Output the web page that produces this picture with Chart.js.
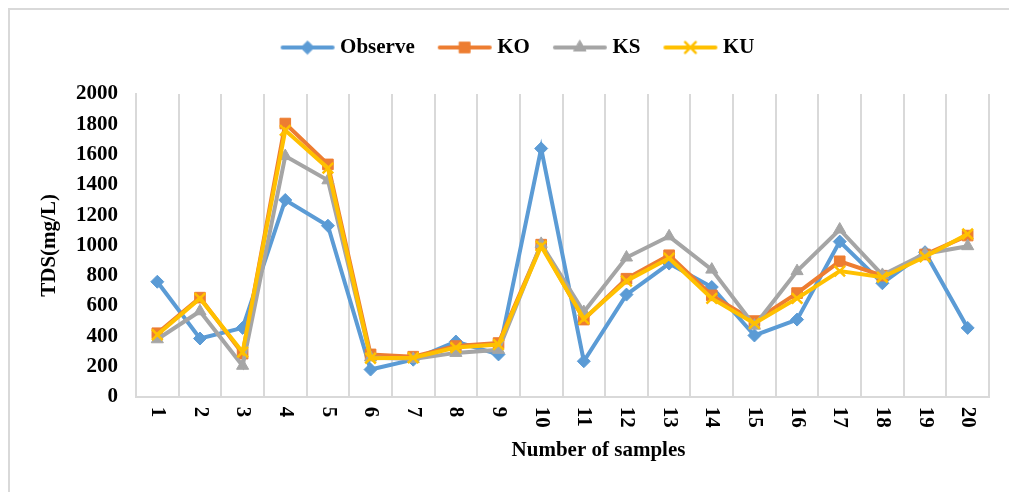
<!DOCTYPE html>
<html>
<head>
<meta charset="utf-8">
<script src="https://cdn.jsdelivr.net/npm/chart.js@4"></script>
<style>
  body { margin: 0; background: #fff; }
  #frame { position: absolute; left: 8px; top: 8px; width: 1100px; height: 600px; border: 2px solid #d9d9d9; }
  #wrap { position: absolute; left: 0; top: 0; width: 1009px; height: 492px; }
</style>
</head>
<body>
<div id="frame"></div>
<div id="wrap"><canvas id="chart"></canvas></div>
<script>
const samples = ['1', '2', '3', '4', '5', '6', '7', '8', '9', '10', '11', '12', '13', '14', '15', '16', '17', '18', '19', '20']
const observe = [760, 385, 455, 1300, 1130, 180, 245, 365, 280, 1640, 235, 675, 880, 725, 405, 510, 1025, 750, 955, 455]
const ko = [420, 655, 285, 1805, 1535, 280, 265, 335, 355, 1005, 510, 780, 935, 670, 500, 685, 895, 800, 940, 1065]
const ks = [380, 565, 205, 1590, 1430, 260, 250, 290, 310, 1010, 560, 920, 1060, 840, 470, 830, 1105, 805, 945, 995]
const ku = [410, 650, 295, 1760, 1510, 255, 258, 325, 345, 995, 515, 765, 915, 650, 485, 650, 830, 790, 925, 1075]

const font = "'Liberation Serif', 'Times New Roman', serif"
const fontSize = 21
const xTitle = 'Number of samples'

// little line + marker picture for each legend entry
function legendIcon(color, style, radius) {
    const c = document.createElement('canvas')
    c.width = 56
    c.height = 18
    const ctx = c.getContext('2d')
    ctx.strokeStyle = color
    ctx.fillStyle = color
    ctx.lineWidth = 4
    ctx.lineCap = 'round'
    ctx.beginPath()
    ctx.moveTo(3, 9)
    ctx.lineTo(53, 9)
    ctx.stroke()
    ctx.lineWidth = style === 'crossRot' ? 2.5 : 1
    Chart.helpers.drawPoint(ctx, { pointStyle: style, radius: radius, rotation: 0, borderWidth: ctx.lineWidth }, 28, 9)
    return c
}

function series(label, data, color, style, radius, order) {
    return {
        label: label,
        data: data,
        borderColor: color,
        backgroundColor: color,
        borderWidth: 4,
        pointStyle: style,
        pointRadius: radius,
        pointBorderWidth: style === 'crossRot' ? 2.5 : 1,
        pointBackgroundColor: color,
        pointBorderColor: color,
        order: order,
        tension: 0,
        icon: legendIcon(color, style, radius)
    }
}

const datasets = [
    series('Observe', observe, '#5B9BD5', 'rectRot', 6.5, 3),
    series('KO', ko, '#ED7D31', 'rect', 7.5, 2),
    series('KS', ks, '#A5A5A5', 'triangle', 7, 1),
    series('KU', ku, '#FFC000', 'crossRot', 7.5, 0)
]

// x tick labels turned clockwise, and the x title sitting a bit right of centre, like the original
const xAxisText = {
    id: 'xAxisText',
    afterDraw(chart) {
        const scale = chart.scales.x
        const ctx = chart.ctx
        ctx.save()
        ctx.fillStyle = '#000'
        ctx.font = 'bold ' + fontSize + 'px ' + font
        ctx.textAlign = 'left'
        ctx.textBaseline = 'middle'
        scale.ticks.forEach((t, i) => {
            const x = scale.getPixelForTick(i)
            ctx.save()
            ctx.translate(x, scale.top + 10)
            ctx.rotate(Math.PI / 2)
            ctx.fillText(samples[i], 0, 0)
            ctx.restore()
        })
        ctx.textAlign = 'center'
        ctx.fillText(xTitle, (scale.left + scale.right) / 2 + 36, scale.bottom - fontSize * 0.6)
        ctx.restore()
    }
}

// more room between the legend and the plot, legend a bit right of centre
const legendGap = {
    id: 'legendGap',
    beforeInit(chart) {
        const fit = chart.legend.fit
        chart.legend.fit = function () {
            fit.bind(chart.legend)()
            this.height += 26
        }
    },
    afterUpdate(chart) {
        chart.legend.left += 11
        chart.legend.right += 11
    }
}

new Chart(document.getElementById('chart'), {
    type: 'line',
    data: { labels: samples, datasets: datasets },
    plugins: [xAxisText, legendGap],
    options: {
        responsive: true,
        maintainAspectRatio: false,
        animation: false,
        layout: { padding: { left: 29, right: 20, top: 9, bottom: 29 } },
        plugins: {
            tooltip: { enabled: false },
            legend: {
                position: 'top',
                labels: {
                    usePointStyle: true,
                    pointStyleWidth: 44,
                    boxHeight: 14,
                    padding: 28,
                    color: '#000',
                    font: { family: font, size: fontSize, weight: 'bold' },
                    generateLabels(chart) {
                        return chart.data.datasets.map((d, i) => ({
                            text: d.label,
                            pointStyle: d.icon,
                            fillStyle: d.borderColor,
                            strokeStyle: d.borderColor,
                            lineWidth: 0,
                            hidden: false,
                            datasetIndex: i
                        }))
                    }
                }
            }
        },
        scales: {
            x: {
                offset: true,
                grid: { offset: true, color: '#d9d9d9', lineWidth: 2, drawTicks: false },
                border: { color: '#d9d9d9', width: 2 },
                ticks: {
                    color: 'transparent',
                    minRotation: 90,
                    maxRotation: 90,
                    padding: 10,
                    font: { family: font, size: fontSize, weight: 'bold' }
                },
                title: {
                    display: true,
                    text: xTitle,
                    color: 'transparent',
                    padding: { top: 0, bottom: 0 },
                    font: { family: font, size: fontSize, weight: 'bold' }
                }
            },
            y: {
                min: 0,
                max: 2000,
                afterFit(scale) { scale.width = 107 },
                grid: { display: false, drawTicks: false },
                border: { color: '#d9d9d9', width: 2 },
                ticks: {
                    stepSize: 200,
                    color: '#000',
                    padding: 18,
                    font: { family: font, size: fontSize, weight: 'bold' },
                    callback: v => String(v)
                },
                title: {
                    display: true,
                    text: 'TDS(mg/L)',
                    color: '#000',
                    padding: { top: 8, bottom: 12 },
                    font: { family: font, size: fontSize, weight: 'bold' }
                }
            }
        }
    }
})
</script>
</body>
</html>
